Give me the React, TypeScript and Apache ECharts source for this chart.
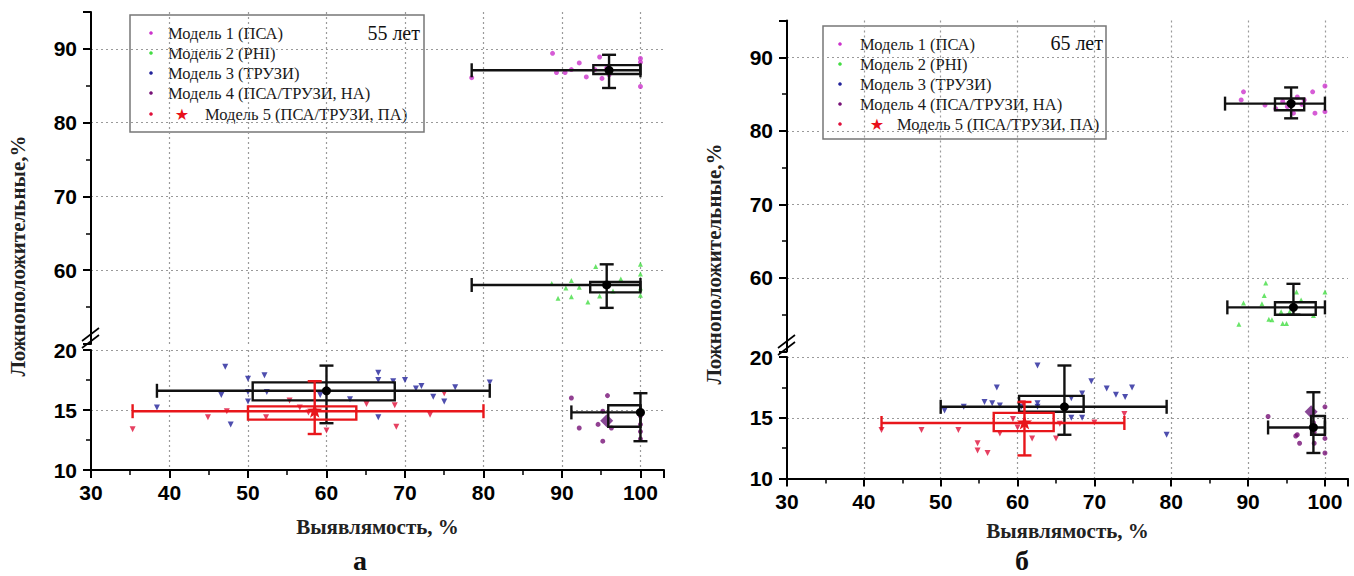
import React, { useEffect, useRef } from "react";
import * as echarts from "echarts";

// ---------- texts ----------
const X_TITLE = "Выявлямость, %";
const Y_TITLE = "Ложноположительные,%";
const MODEL_NAMES = [
  "Модель 1 (ПСА)",
  "Модель 2 (PHI)",
  "Модель 3 (ТРУЗИ)",
  "Модель 4 (ПСА/ТРУЗИ, НА)",
  "Модель 5 (ПСА/ТРУЗИ, ПА)",
];
const MODEL_COLORS = ["#cc33cc", "#44dd44", "#22229a", "#771177", "#e0103a"];
const AGE_A = "55 лет";
const AGE_B = "65 лет";

// ---------- box glyphs: [xLo, xHi, boxX0, boxX1, yLo, yHi, boxY0, boxY1, meanX, meanY] ----------
const A_BOX_M1 = [78.5, 100, 94, 100, 84.7, 89.2, 86.6, 87.8, 96, 87.1];
const A_BOX_M2 = [78.5, 100, 93.6, 100, 54.9, 60.8, 57.0, 58.4, 95.7, 58.0];
const A_BOX_M3 = [38.4, 80.8, 50.6, 68.7, 13.9, 18.7, 15.8, 17.3, 60.0, 16.6];
const A_BOX_M4 = [91.2, 100, 95.9, 100, 12.4, 16.4, 13.6, 15.4, 100, 14.8];
const A_BOX_M5 = [35.3, 80.0, 50.0, 63.8, 13.0, 17.4, 14.2, 15.3, 58.5, 14.9];

const B_BOX_M1 = [87.0, 100, 93.5, 97.3, 81.7, 85.9, 82.8, 84.4, 95.6, 83.7];
const B_BOX_M2 = [87.3, 100, 93.5, 98.8, 55.0, 59.2, 55.0, 56.7, 95.9, 56.0];
const B_BOX_M3 = [50.0, 79.4, 60.2, 68.6, 13.6, 19.3, 15.5, 16.8, 66.1, 15.9];
const B_BOX_M4 = [92.6, 100, 98.2, 100, 12.1, 17.1, 13.6, 15.15, 98.5, 14.2];
const B_BOX_M5 = [42.3, 73.9, 56.9, 64.7, 11.9, 16.3, 13.9, 15.4, 60.9, 14.57];

// ---------- individual points [x, y] ----------
const A_M1_PTS = [[78.5, 86.1], [88.8, 89.4], [89.3, 86.8], [90.4, 86.8], [91.2, 87.2], [92.2, 88.1], [93.1, 86.2], [94.2, 87.2], [94.8, 88.9], [95.1, 86.0], [95.7, 87.4], [96.0, 86.5], [100, 88.7], [100, 88.2], [100, 84.9]];
const A_M2_PTS = [[94.3, 60.5], [88.7, 58.2], [91.2, 58.6], [92.2, 57.7], [90.5, 57.6], [89.5, 56.2], [91.2, 56.4], [93.3, 55.7], [94.8, 56.5], [100, 60.8], [100, 59.5], [100, 57.6], [100, 56.6], [96.5, 57.2], [97.5, 58.8]];
const A_M3_PTS = [[47.1, 18.6], [50.0, 17.6], [52.1, 17.9], [46.6, 16.25], [50.0, 16.5], [50.0, 15.7], [52.4, 16.5], [38.4, 15.2], [47.8, 13.8], [59.2, 16.25], [63.0, 15.9], [66.6, 18.1], [66.6, 17.5], [68.5, 17.4], [70.0, 17.5], [71.4, 16.8], [72.1, 17.0], [73.6, 16.1], [75.0, 15.7], [76.4, 16.9], [80.8, 17.3], [66.6, 14.4]];
const A_M4_PTS = [[91.2, 16.0], [92.2, 13.5], [95.2, 14.9], [95.8, 16.2], [94.6, 13.8], [95.2, 12.4], [96.3, 13.5], [100, 14.5], [100, 13.8], [100, 13.2], [100, 12.6]];
const A_M4_MARK = [[95.7, 14.1]];
const A_M5_PTS = [[35.3, 13.4], [44.9, 14.4], [47.3, 14.9], [52.3, 14.4], [55.3, 15.8], [56.6, 15.2], [60.0, 13.3], [65.1, 15.5], [68.7, 15.4], [68.9, 13.6], [73.2, 14.6], [75.0, 16.4], [57.7, 14.8]];

const B_M1_PTS = [[89.4, 85.3], [89.1, 84.2], [92.2, 83.5], [93.6, 83.0], [95.1, 83.3], [95.9, 82.4], [96.4, 84.6], [97.3, 84.2], [98.4, 85.3], [98.7, 82.4], [100, 86.1], [100, 82.6], [94.5, 84.0], [97.0, 83.6]];
const B_M2_PTS = [[92.3, 59.3], [92.1, 57.6], [89.4, 56.6], [91.8, 56.5], [88.8, 53.7], [92.7, 54.4], [93.1, 54.3], [94.5, 53.8], [95.0, 53.8], [94.3, 55.4], [96.3, 58.1], [96.9, 57.0], [98.5, 54.9], [100, 58.1], [95.4, 55.4]];
const B_M3_PTS = [[62.6, 19.3], [57.3, 17.5], [55.7, 16.3], [56.7, 16.2], [57.7, 16.0], [62.6, 16.2], [62.6, 15.9], [67.0, 16.6], [68.4, 17.0], [69.6, 18.0], [71.6, 17.4], [72.8, 16.9], [74.0, 16.7], [74.9, 17.5], [67.0, 15.0], [68.4, 15.0], [79.4, 13.6], [60.5, 15.9], [53.0, 15.9], [50.5, 15.6]];
const B_M4_PTS = [[92.6, 15.1], [96.4, 13.6], [96.7, 12.9], [96.2, 13.5], [98.6, 12.9], [100, 12.1], [100, 13.3], [100, 15.9], [98.5, 14.6], [98.6, 13.8]];
const B_M4_MARK = [[98.2, 15.5]];
const B_M5_PTS = [[42.3, 14.0], [47.5, 14.0], [52.3, 14.0], [54.8, 12.9], [54.8, 12.3], [56.1, 12.1], [57.7, 13.7], [59.4, 14.9], [61.9, 13.3], [65.0, 13.3], [65.5, 14.5], [70.0, 14.6], [73.9, 15.3], [60.7, 16.2], [60.0, 14.2]];

// ---------- axis ranges ----------
const X_RANGE = [30, 103];
const Y_UPPER = [50, 95];
const Y_LOWER = [10, 20];

const LABEL_FONT = { fontSize: 21, fontWeight: "bold" as const, fontFamily: "Liberation Sans", color: "#000" };
const AXIS_LINE = { color: "#000", width: 2 };
const GRID_LINE = { color: "#9a9a9a", type: [2, 3] as any, width: 1.2 };

function xAxis(gridIndex: number, bottom: boolean, nameGap: number) {
  return {
    type: "value", gridIndex, min: X_RANGE[0], max: X_RANGE[1], interval: 10,
    axisLine: { show: bottom, onZero: false, lineStyle: AXIS_LINE },
    axisTick: { show: bottom, length: 8, lineStyle: AXIS_LINE },
    minorTick: { show: bottom, splitNumber: 2, length: 5, lineStyle: { color: "#000", width: 1.5 } },
    axisLabel: { show: bottom, showMaxLabel: false, margin: 12, ...LABEL_FONT },
    splitLine: { show: true, showMinLine: false, showMaxLine: false, lineStyle: GRID_LINE },
    name: bottom ? X_TITLE : "",
    nameLocation: "middle", nameGap, nameMoveOverlap: false,
    nameTextStyle: { fontSize: 21, fontWeight: "bold", fontFamily: "Liberation Serif", color: "#222" },
  };
}
function yAxis(gridIndex: number, range: number[], interval: number, upper: boolean) {
  return {
    type: "value", gridIndex, min: range[0], max: range[1], interval,
    axisLine: { show: true, onZero: false, lineStyle: AXIS_LINE },
    axisTick: { length: 8, lineStyle: AXIS_LINE },
    minorTick: { show: true, splitNumber: 2, length: 5, lineStyle: { color: "#000", width: 1.5 } },
    axisLabel: { showMinLabel: !upper, showMaxLabel: !upper, margin: 14, ...LABEL_FONT },
    splitLine: { show: true, showMinLine: false, showMaxLine: !upper, lineStyle: GRID_LINE },
  };
}

function makeRender(color: string, mean: "dot" | "star") {
  return (params: any, api: any) => {
    const v = (i: number) => api.value(i);
    const p = (x: number, y: number) => api.coord([x, y]);
    const cx = v(8), cy = v(9);
    const hL = p(v(0), cy), hR = p(v(1), cy);
    const vB = p(cx, v(4)), vT = p(cx, v(5));
    const b0 = p(v(2), v(7)), b1 = p(v(3), v(6));
    const c = p(cx, cy);
    const cap = 7;
    const ls = { stroke: color, lineWidth: 2.4 };
    const line = (x1: number, y1: number, x2: number, y2: number) => ({ type: "line", shape: { x1, y1, x2, y2 }, style: ls });
    const children: any[] = [
      { type: "rect", shape: { x: b0[0], y: b0[1], width: b1[0] - b0[0], height: b1[1] - b0[1] }, style: { stroke: color, lineWidth: 2.4, fill: "none" } },
      line(hL[0], hL[1], hR[0], hR[1]),
      line(hL[0], hL[1] - cap, hL[0], hL[1] + cap),
      line(hR[0], hR[1] - cap, hR[0], hR[1] + cap),
      line(vB[0], vB[1], vT[0], vT[1]),
      line(vB[0] - cap, vB[1], vB[0] + cap, vB[1]),
      line(vT[0] - cap, vT[1], vT[0] + cap, vT[1]),
    ];
    if (mean === "dot") {
      children.push({ type: "circle", shape: { cx: c[0], cy: c[1], r: 4.5 }, style: { fill: "#000" } });
    } else {
      const pts: number[][] = [];
      for (let k = 0; k < 10; k++) {
        const a = -Math.PI / 2 + (k * Math.PI) / 5;
        const r = k % 2 ? 3.2 : 8;
        pts.push([c[0] + r * Math.cos(a), c[1] + r * Math.sin(a)]);
      }
      children.push({ type: "polygon", shape: { points: pts }, style: { fill: color } });
    }
    return { type: "group", children };
  };
}

function boxSeries(data: number[][], gi: number, color: string, mean: "dot" | "star") {
  return { type: "custom", xAxisIndex: gi, yAxisIndex: gi, data, renderItem: makeRender(color, mean), z: 4, clip: false, silent: true };
}
function pts(data: number[][], gi: number, color: string, symbol: string, size: number, rotate = 0) {
  return { type: "scatter", xAxisIndex: gi, yAxisIndex: gi, data, symbol, symbolSize: size, symbolRotate: rotate, itemStyle: { color }, z: 2, silent: true };
}

function legend(x: number, y: number, w: number, h: number, rows: number[], dotX: number, textX: number, starX: number, text5X: number, age: string, ageX: number, ageY: number) {
  const children: any[] = [
    { type: "rect", shape: { x, y, width: w, height: h }, style: { fill: "#fff", stroke: "#777", lineWidth: 1.5 } },
  ];
  MODEL_NAMES.forEach((name, i) => {
    children.push({ type: "circle", shape: { cx: dotX, cy: rows[i], r: 1.8 }, style: { fill: MODEL_COLORS[i] } });
    children.push({
      type: "text", x: i === 4 ? text5X : textX, y: rows[i],
      style: { text: name, font: '16.5px "Liberation Serif"', fill: "#1a1a1a", textAlign: "left", textVerticalAlign: "middle" },
    });
  });
  children.push({ type: "text", x: starX, y: rows[4], style: { text: "★", font: '16px "DejaVu Sans"', fill: "#e8101a", textAlign: "center", textVerticalAlign: "middle" } });
  children.push({ type: "text", x: ageX, y: ageY, style: { text: age, font: '20px "Liberation Serif"', fill: "#111", textAlign: "right", textVerticalAlign: "middle" } });
  return { type: "group", z: 50, children };
}

function axisBreak(axisX: number, y0: number, y1: number) {
  return {
    type: "group", z: 60,
    children: [
      { type: "rect", shape: { x: axisX - 6, y: y0, width: 12, height: y1 - y0 }, style: { fill: "#fff" } },
      { type: "line", shape: { x1: axisX - 9, y1: y1 - 1, x2: axisX + 8, y2: y1 - 14 }, style: { stroke: "#000", lineWidth: 1.6 } },
      { type: "line", shape: { x1: axisX - 9, y1: y1 - 8, x2: axisX + 8, y2: y1 - 21 }, style: { stroke: "#000", lineWidth: 1.6 } },
    ],
  };
}

const option: any = {
  animation: false,
  backgroundColor: "#fff",
  grid: [
    { left: 91, top: 12, width: 573, height: 332, outerBoundsMode: "none" },
    { left: 91, top: 350, width: 573, height: 120, outerBoundsMode: "none" },
    { left: 787, top: 20.5, width: 561, height: 331, outerBoundsMode: "none" },
    { left: 787, top: 357, width: 561, height: 121.5, outerBoundsMode: "none" },
  ],
  xAxis: [xAxis(0, false, 0), xAxis(1, true, 46), xAxis(2, false, 0), xAxis(3, true, 42)],
  yAxis: [yAxis(0, Y_UPPER, 10, true), yAxis(1, Y_LOWER, 5, false), yAxis(2, Y_UPPER, 10, true), yAxis(3, Y_LOWER, 5, false)],
  series: [
    pts(A_M1_PTS, 0, MODEL_COLORS[0], "circle", 5),
    pts(A_M2_PTS, 0, MODEL_COLORS[1], "triangle", 5),
    pts(A_M3_PTS, 1, MODEL_COLORS[2], "triangle", 6, 180),
    pts(A_M4_PTS, 1, MODEL_COLORS[3], "circle", 5),
    pts(A_M4_MARK, 1, "#6a1a7a", "diamond", 13),
    pts(A_M5_PTS, 1, MODEL_COLORS[4], "triangle", 6, 180),
    boxSeries([A_BOX_M1, A_BOX_M2], 0, "#111", "dot"),
    boxSeries([A_BOX_M3, A_BOX_M4], 1, "#111", "dot"),
    boxSeries([A_BOX_M5], 1, "#e8161b", "star"),

    pts(B_M1_PTS, 2, MODEL_COLORS[0], "circle", 5),
    pts(B_M2_PTS, 2, MODEL_COLORS[1], "triangle", 5),
    pts(B_M3_PTS, 3, MODEL_COLORS[2], "triangle", 6, 180),
    pts(B_M4_PTS, 3, MODEL_COLORS[3], "circle", 5),
    pts(B_M4_MARK, 3, "#6a1a7a", "diamond", 13),
    pts(B_M5_PTS, 3, MODEL_COLORS[4], "triangle", 6, 180),
    boxSeries([B_BOX_M1, B_BOX_M2], 2, "#111", "dot"),
    boxSeries([B_BOX_M3, B_BOX_M4], 3, "#111", "dot"),
    boxSeries([B_BOX_M5], 3, "#e8161b", "star"),
  ],
  graphic: [
    legend(130, 15, 294, 117, [33, 53, 73, 93, 114], 151, 168, 182, 205, AGE_A, 420, 33),
    legend(823, 26, 283, 113, [44, 64, 84, 104, 124], 840, 860, 877, 897, AGE_B, 1103, 43),
    axisBreak(91, 316, 349),
    axisBreak(787, 322, 356),
    {
      type: "text", x: 18, y: 256, rotation: Math.PI / 2, z: 60,
      style: { text: Y_TITLE, font: 'bold 21px "Liberation Serif"', fill: "#222", textAlign: "center", textVerticalAlign: "middle" },
    },
    {
      type: "text", x: 714, y: 264, rotation: Math.PI / 2, z: 60,
      style: { text: Y_TITLE, font: 'bold 21px "Liberation Serif"', fill: "#222", textAlign: "center", textVerticalAlign: "middle" },
    },
    { type: "text", x: 360, y: 560, z: 60, style: { text: "а", font: 'bold 28px "Liberation Serif"', fill: "#111", textAlign: "center", textVerticalAlign: "middle" } },
    { type: "text", x: 1022, y: 560, z: 60, style: { text: "б", font: 'bold 28px "Liberation Serif"', fill: "#111", textAlign: "center", textVerticalAlign: "middle" } },
  ],
};

export default function App() {
  const ref = useRef<HTMLDivElement>(null);
  useEffect(() => {
    if (!ref.current) return;
    const chart = echarts.init(ref.current, null, { renderer: "svg" });
    chart.setOption(option);
    return () => chart.dispose();
  }, []);
  return (
    <div
      ref={ref}
      style={{ position: "absolute", left: 0, top: 0, width: 1354, height: 576, background: "#fff" }}
    />
  );
}
